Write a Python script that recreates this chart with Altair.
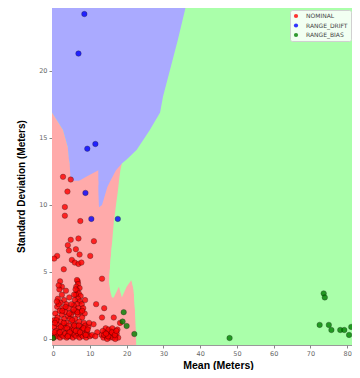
import altair as alt
import pandas as pd

# ---------------- data ----------------
classes = ["NOMINAL", "RANGE_DRIFT", "RANGE_BIAS"]
point_colors = ["#ff0000", "#0000ff", "#008000"]
region_colors = ["#ffaaaa", "#aaaaff", "#aaffaa"]

red_x = [2.7, 4.8, 3.9, 3.2, 3.2, 7.4, 4.8, 6.9, 11.1, 4.0, 6.2, 4.3, 7.2, 10.1, 1.1, 0.3, 5.1, 5.9, 6.9, 7.7, 2.9, 13.3, 1.9, 6.7, 2.4,
         6.5, 6.8, 6.3, 7.2, 6.6, 7.0, 6.2, 7.5, 6.8, 5.9, 7.3, 6.5, 7.8, 5.6, 6.9, 8.2, 6.1, 7.4, 5.3, 8.6, 6.7, 4.9, 7.9, 6.0, 7.1, 5.5, 8.4, 6.4, 7.6, 5.1,
         1.7, 2.4, 1.3, 3.0, 2.0, 3.6, 1.1, 2.7, 4.2, 1.8, 3.3, 0.6, 2.4, 4.0, 1.2, 3.0, 4.6, 0.3, 2.0, 3.7, 1.0, 2.6, 4.3, 0.2, 1.6, 3.2, 4.8, 0.8, 2.3, 3.9,
         0.1, 0.5, 1.0, 1.4, 1.9, 2.3, 2.8, 3.3, 3.7, 4.2, 4.6, 5.0, 5.4, 5.9, 6.3, 6.8, 7.2, 7.7, 8.1, 8.6, 9.0, 9.5, 10.0, 10.6,
         5.7, 6.9, 8.0, 9.2, 8.8, 9.6,
         13.2, 13.7, 14.1, 14.5, 14.9, 15.3, 15.6, 15.9, 16.3, 16.6, 17.0, 17.3, 17.7, 14.3, 15.1, 16.1, 17.5, 13.5, 16.9, 14.7,
         11.7, 13.9, 13.3, 16.5, 11.0, 12.0, 18.2, 11.5, 8.7, 9.8, 1.5,
         0.4, 0.9, 1.5, 2.1, 2.9, 3.4, 3.8, 4.4, 4.5, 5.0, 5.2, 5.7, 5.8, 6.2, 6.6, 7.0, 7.3, 7.9, 8.3, 8.9, 9.4, 3.5, 4.4, 5.6, 1.0, 2.5, 0.5, 1.8, 4.0, 6.1,
         13.9, 15.0, 16.0, 16.8, 17.2, 14.4]
red_y = [12.1, 11.9, 11.0, 9.85, 9.2, 8.8, 7.4, 7.5, 7.3, 7.0, 6.7, 6.6, 6.3, 6.2, 6.2, 6.0, 5.9, 5.7, 5.6, 5.7, 5.2, 4.5, 4.3, 4.3, 3.9,
         4.4, 4.1, 3.9, 3.8, 3.6, 3.4, 3.3, 3.2, 3.0, 2.9, 2.8, 2.6, 2.6, 2.5, 2.3, 2.3, 2.1, 2.0, 2.0, 1.9, 1.8, 1.8, 1.6, 1.5, 1.3, 1.2, 1.2, 1.0, 0.9, 0.8,
         3.7, 3.3, 3.0, 2.9, 2.7, 2.6, 2.4, 2.3, 2.3, 2.1, 2.0, 1.9, 1.8, 1.7, 1.6, 1.5, 1.5, 1.4, 1.3, 1.2, 1.1, 1.0, 1.0, 0.9, 0.8, 0.8, 0.6, 0.6, 0.6, 0.5,
         0.1, 0.3, 0.2, 0.4, 0.1, 0.3, 0.2, 0.4, 0.1, 0.3, 0.2, 0.4, 0.1, 0.3, 0.2, 0.4, 0.1, 0.3, 0.2, 0.4, 0.1, 0.3, 0.2, 0.3,
         0.7, 0.6, 0.7, 0.6, 1.0, 0.9,
         0.3, 0.1, 0.5, 0.2, 0.4, 0.1, 0.6, 0.3, 0.1, 0.5, 0.2, 0.4, 0.1, 0.8, 0.7, 0.8, 0.7, 0.6, 0.0, 0.0,
         2.6, 2.3, 1.6, 1.6, 1.1, 0.5, 1.2, 0.2, 2.9, 1.2, 4.0,
         0.5, 1.4, 2.6, 0.9, 1.2, 2.4, 0.8, 1.9, 0.5, 2.6, 1.4, 3.3, 1.0, 0.6, 2.0, 1.0, 0.5, 2.1, 0.8, 0.3, 0.7, 3.6, 3.1, 2.2, 2.8, 2.1, 1.2, 0.5, 0.2, 3.7,
         0.3, 0.2, 0.5, 0.3, 0.6, 0.4]

blue_x = [8.5, 6.9, 9.3, 11.5, 8.8, 10.4, 17.6]
blue_y = [24.25, 21.3, 14.2, 14.55, 10.9, 8.96, 8.96]

green_x = [19.2, 18.9, 20.0, 22.1, 0.0, 48.0, 73.6, 73.9, 72.5, 75.0, 75.7, 78.1, 79.2, 81.1, 80.5]
green_y = [2.0, 1.3, 0.97, 0.37, 0.07, 0.07, 3.4, 3.1, 1.05, 1.05, 0.67, 0.67, 0.67, 0.9, 0.3]

# decision regions (data coordinates)
# main NOMINAL region: for each y, from left edge to boundary
nom_y = [-1.0, 1.6, 3.7, 4.4, 4.6, 6.1, 8.7, 10.4, 11.0, 12.0, 12.6, 13.1, 13.12, 14.3, 15.6, 16.9]
nom_xr = [22.7, 22.4, 21.9, 21.3, 15.3, 15.7, 16.5, 17.3, 17.6, 18.0, 18.3, 18.7, 4.5, 4.0, 2.7, -0.3]

# green teeth cutting into the NOMINAL region
tooth_x = [15.2, 15.6, 16.0, 16.5, 17.9, 18.7, 20.0, 21.3, 21.9, 22.4, 22.7, 23.5]
tooth_lo = [4.2, 3.5, 3.1, 3.1, 3.9, 3.1, 3.9, 4.4, 3.7, 1.6, -0.45, -1.0]
tooth_hi = [4.3, 5.8, 7.0, 7.0, 7.0, 7.0, 7.0, 7.0, 7.0, 7.0, 7.0, 7.0]

# RANGE_DRIFT region
drift_y = [11.8, 12.6, 13.1, 13.4, 14.1, 14.3, 15.1, 15.6, 16.9, 18.1, 20.3, 22.3, 24.7, 26.0]
drift_xl = [4.8, 4.6, 4.5, 4.3, 4.05, 4.0, 3.2, 2.7, -0.3, -1.0, -1.0, -1.0, -1.0, -1.0]
drift_xr = [15.6, 17.1, 18.7, 20.0, 22.7, 23.2, 25.1, 26.3, 29.1, 29.9, 32.0, 33.9, 36.0, 37.0]

# RANGE_DRIFT wedge reaching down
wedge_y = [9.85, 10.0, 11.1, 11.3, 11.85]
wedge_xl = [12.5, 12.45, 12.3, 12.3, 12.3]
wedge_xr = [12.6, 13.3, 14.5, 14.7, 15.65]

# NOMINAL sliver under the drift region
sliver_x = [6.4, 9.0, 12.3]
sliver_lo = [11.5, 11.5, 11.5]
sliver_hi = [11.7, 12.1, 12.6]

# ---------------- tables ----------------
pts = pd.DataFrame({
    "x": red_x + blue_x + green_x,
    "y": red_y + blue_y + green_y,
    "cls": [classes[0]] * len(red_x) + [classes[1]] * len(blue_x) + [classes[2]] * len(green_x),
})
bg = pd.DataFrame({"x": [-5.0], "x2": [100.0], "y": [-5.0], "y2": [40.0]})
nom = pd.DataFrame({"y": nom_y, "xl": [-5.0] * len(nom_y), "xr": nom_xr})
teeth = pd.DataFrame({"x": tooth_x, "lo": tooth_lo, "hi": tooth_hi})
drift = pd.DataFrame({"y": drift_y, "xl": drift_xl, "xr": drift_xr})
wedge = pd.DataFrame({"y": wedge_y, "xl": wedge_xl, "xr": wedge_xr})
sliver = pd.DataFrame({"x": sliver_x, "lo": sliver_lo, "hi": sliver_hi})

# ---------------- scales / axes ----------------
xs = alt.Scale(domain=[-0.3, 81.3], nice=False, zero=False)
ys = alt.Scale(domain=[-0.45, 24.7], nice=False, zero=False)

x_axis = alt.Axis(
    title="Mean (Meters)", values=[0, 10, 20, 30, 40, 50, 60, 70, 80], grid=False, domain=False,
    tickColor="#888888", tickSize=3, labelFontSize=6.5, labelColor="#666666", labelPadding=2,
    labelFont="DejaVu Sans", titleFont="Liberation Sans", titleFontSize=10.5, titleFontWeight="bold",
    titleColor="#000000", titleX=166, titleY=20, titleBaseline="middle", titleAlign="center",
)
y_axis = alt.Axis(
    title="Standard Deviation (Meters)", values=[0, 5, 10, 15, 20], grid=False, domain=False,
    tickColor="#888888", tickSize=3, labelFontSize=6.5, labelColor="#666666", labelPadding=2,
    labelFont="DejaVu Sans", titleFont="Liberation Sans", titleFontSize=10, titleFontWeight="bold",
    titleColor="#000000", titleX=-31, titleY=178, titleBaseline="middle", titleAlign="center",
)


def X(f):
    return alt.X(f, type="quantitative", scale=xs, axis=x_axis)


def Y(f):
    return alt.Y(f, type="quantitative", scale=ys, axis=y_axis)


bg_layer = alt.Chart(bg).mark_rect(color=region_colors[2], clip=True).encode(
    x=X("x"), x2="x2", y=Y("y"), y2="y2")
nom_layer = alt.Chart(nom).mark_area(color=region_colors[0], orient="horizontal", clip=True).encode(
    y=Y("y"), x=X("xl"), x2="xr")
teeth_layer = alt.Chart(teeth).mark_area(color=region_colors[2], orient="vertical", clip=True).encode(
    x=X("x"), y=Y("lo"), y2="hi")
drift_layer = alt.Chart(drift).mark_area(color=region_colors[1], orient="horizontal", clip=True).encode(
    y=Y("y"), x=X("xl"), x2="xr")
wedge_layer = alt.Chart(wedge).mark_area(color=region_colors[1], orient="horizontal", clip=True).encode(
    y=Y("y"), x=X("xl"), x2="xr")
sliver_layer = alt.Chart(sliver).mark_area(color=region_colors[0], orient="vertical", clip=True).encode(
    x=X("x"), y=Y("lo"), y2="hi")

pt_layer = alt.Chart(pts).mark_circle(
    size=30, opacity=0.8, stroke="#000000", strokeWidth=0.5, strokeOpacity=0.7, clip=True
).encode(
    x=X("x"), y=Y("y"),
    color=alt.Color("cls:N", scale=alt.Scale(domain=classes, range=point_colors),
                    sort=classes,
                    legend=alt.Legend(title=None, orient="none", legendX=238, legendY=2,
                                      fillColor="rgba(255,255,255,0.85)", strokeColor="#d0d0d0",
                                      padding=3, cornerRadius=2, labelFontSize=6, labelColor="#444444",
                                      labelFont="DejaVu Sans", symbolSize=18, symbolType="circle",
                                      symbolStrokeWidth=0, labelOffset=7, rowPadding=3.5)),
)

chart = alt.layer(bg_layer, nom_layer, teeth_layer, drift_layer, wedge_layer, sliver_layer, pt_layer).properties(
    width=300, height=337,
    autosize=alt.AutoSizeParams(type="none"),
    padding={"left": 44, "top": 0, "right": 0, "bottom": 25},
).configure_view(stroke="#999999", strokeWidth=1)

chart.save("out.html", embed_options={"renderer": "svg", "actions": False})
